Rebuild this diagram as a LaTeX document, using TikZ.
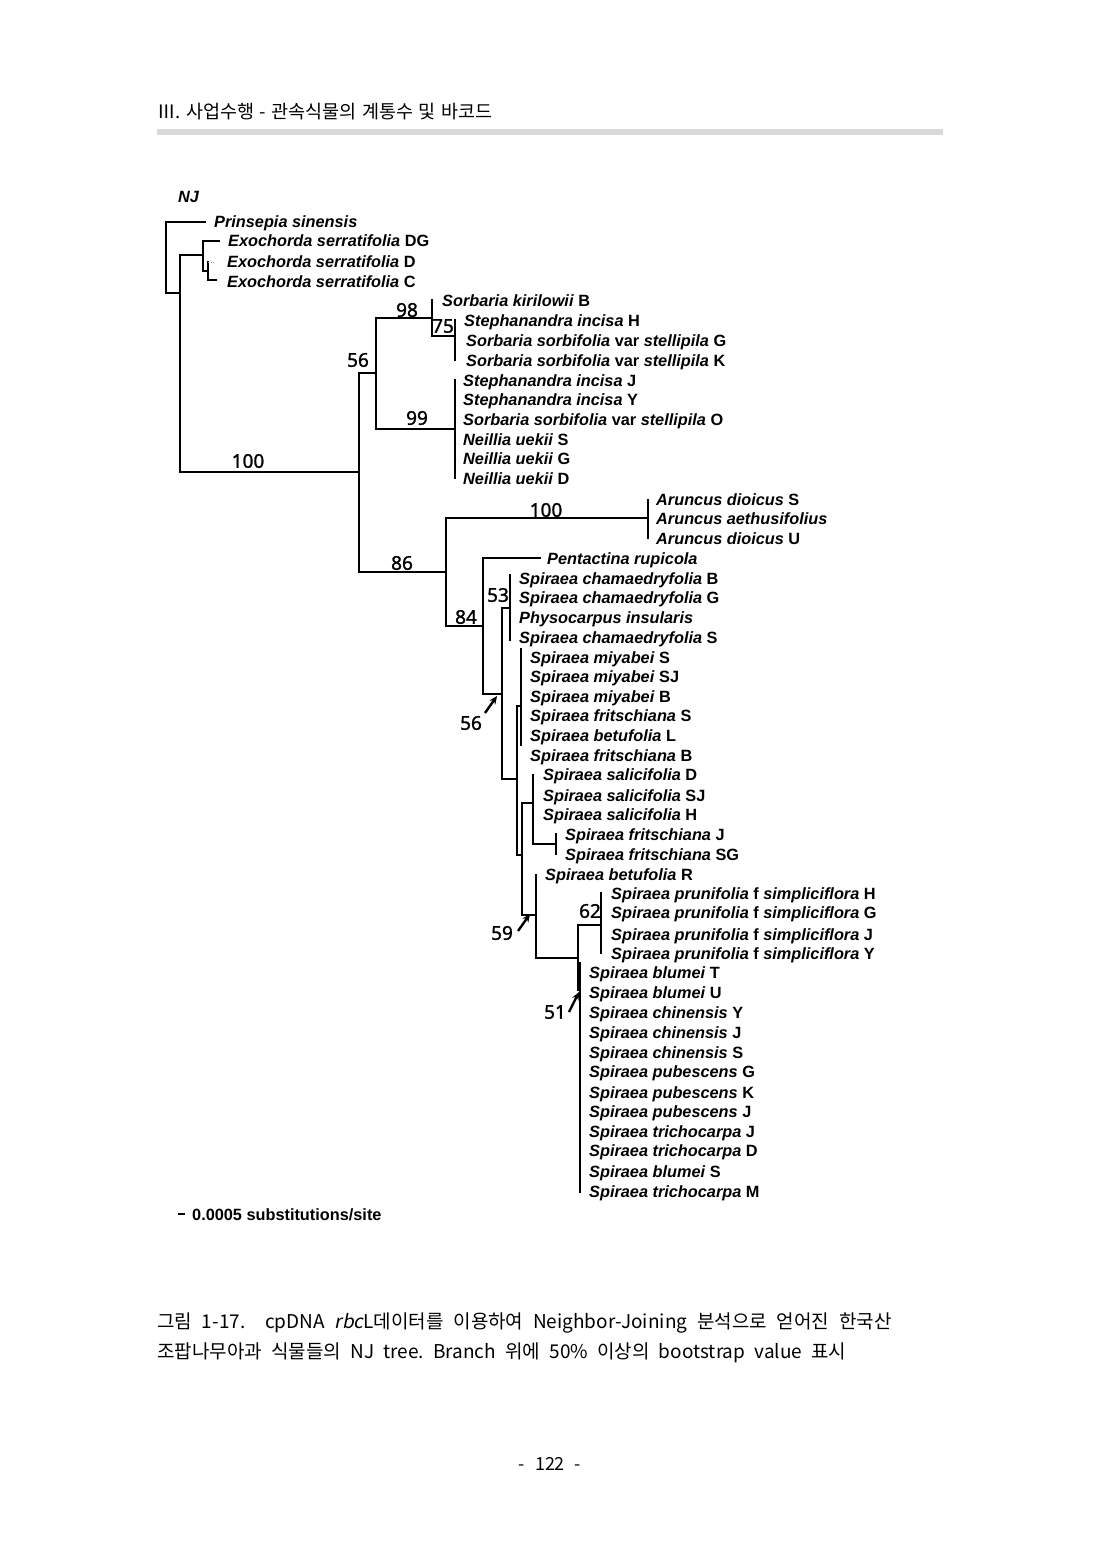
\documentclass[tikz,border=0pt]{standalone}
\usepackage{fontspec}
\setmainfont{Liberation Sans}
\newfontfamily\krfont{Noto Sans CJK KR}
\newfontfamily\kritfont[FakeSlant=0.2]{Noto Sans CJK KR}
\newfontfamily\numfont[FakeBold=1.3]{Noto Sans}
\usetikzlibrary{arrows.meta}
\newcommand\tx[2]{\textit{#1} #2}
\newcommand\sA{\hspace{5.5pt}}
\newcommand\sB{\hspace{9.8pt}}
\newcommand\sC{\hspace{9.2pt}}
\begin{document}
\begin{tikzpicture}[x=1pt,y=-1pt,
  br/.style={line width=1.3pt,line cap=rect},
  lab/.style={anchor=base west,inner sep=0pt,font=\fontsize{16.3}{16}\selectfont\bfseries},
  bs/.style={inner sep=0pt,font=\numfont\fontsize{19}{19}\selectfont},
  arr/.style={-{Stealth[length=8pt,width=7pt]},line width=2.4pt},
  kr/.style={anchor=base west,inner sep=0pt,font=\krfont\fontsize{18}{18}\selectfont}]
\useasboundingbox (0,0) rectangle (1100,1554);
\fill[white] (0,0) rectangle (1100,1554);
% header
\node[kr,font=\krfont\fontsize{18.5}{18}\selectfont] (hdr) at (157,119) {Ⅲ.\sA 사업수행\sA -\sA 관속식물의\sA 계통수\sA 및\sA 바코드};
\fill[black!15] (157,129) rectangle (943,135);
\node[lab,font=\fontsize{16.3}{16}\selectfont\bfseries\itshape] (nj) at (178,203) {NJ};
% internal node coordinates
\coordinate (root) at (166,257); \coordinate (root-t) at (166,222); \coordinate (root-b) at (166,293);
\coordinate (pri) at (205,222);
\coordinate (nA) at (180,293); \coordinate (nA-t) at (180,255); \coordinate (nA-b) at (180,472);
\coordinate (nExo) at (203,255); \coordinate (nExo-t) at (203,241); \coordinate (nExo-b) at (203,271);
\coordinate (exoDG) at (219,241);
\coordinate (nExo2) at (208,271); \coordinate (nExo2-t) at (208,262); \coordinate (nExo2-b) at (208,280);
\coordinate (exoD) at (215,262); \coordinate (exoC) at (216,280);
\coordinate (nB) at (359,472); \coordinate (nB-t) at (359,373); \coordinate (nB-b) at (359,572);
\coordinate (n56) at (376,373); \coordinate (n56-t) at (376,318); \coordinate (n56-b) at (376,429);
\coordinate (n98) at (432,318); \coordinate (n98-t) at (432,300); \coordinate (n98-b) at (432,336);
\coordinate (n75) at (455,336); \coordinate (n75-t) at (455,320); \coordinate (n75-b) at (455,360);
\coordinate (n99) at (455,429); \coordinate (n99-t) at (455,380); \coordinate (n99-b) at (455,478);
\coordinate (n86) at (446,572); \coordinate (n86-t) at (446,518); \coordinate (n86-b) at (446,626);
\coordinate (nAru) at (648,518); \coordinate (nAru-t) at (648,500); \coordinate (nAru-b) at (648,538);
\coordinate (n84) at (483,626); \coordinate (n84-t) at (483,558); \coordinate (n84-b) at (483,694);
\coordinate (pen) at (540,558);
\coordinate (nC) at (502,694); \coordinate (nC-t) at (502,608); \coordinate (nC-b) at (502,779);
\coordinate (n53) at (510,608); \coordinate (n53-t) at (510,575); \coordinate (n53-b) at (510,640);
\coordinate (nD) at (517,779); \coordinate (nD-t) at (517,706); \coordinate (nD-b) at (517,855);
\coordinate (nMiy) at (521,706); \coordinate (nMiy-t) at (521,649); \coordinate (nMiy-b) at (521,745);
\coordinate (nE) at (522,855); \coordinate (nE-t) at (522,803); \coordinate (nE-b) at (522,915);
\coordinate (nSal) at (533,803); \coordinate (nSal-t) at (533,775); \coordinate (nSal-b) at (533,844);
\coordinate (nFri) at (556,844); \coordinate (nFri-t) at (556,834); \coordinate (nFri-b) at (556,854);
\coordinate (n59) at (536,915); \coordinate (n59-t) at (536,875); \coordinate (n59-b) at (536,958);
\coordinate (nF) at (578,958); \coordinate (nF-t) at (578,925); \coordinate (nF-b) at (578,990);
\coordinate (n62) at (601,925); \coordinate (n62-t) at (601,893); \coordinate (n62-b) at (601,953);
\coordinate (nBlu) at (580,990); \coordinate (nBlu-t) at (580,963); \coordinate (nBlu-b) at (580,1192);
% verticals
\foreach \n in {root,nA,nExo,nExo2,nB,n56,n98,n75,n99,n86,nAru,n84,nC,n53,nD,nMiy,nE,nSal,nFri,n59,nF,n62,nBlu}
  \draw[br] (\n-t) -- (\n-b);
% horizontals
\foreach \p/\c in {root/pri,root/nA,nA/nExo,nA/nB,nExo/exoDG,nExo/nExo2,nExo2/exoC,nB/n56,nB/n86,n56/n98,n56/n99,n98/n75,n86/nAru,n86/n84,n84/pen,n84/nC,nC/n53,nC/nD,nD/nMiy,nD/nE,nE/nSal,nE/n59,nSal/nFri,n59/nF,nF/n62,nF/nBlu}
  \draw[br] (\p |- \c) -- (\c);
\draw[black!40,line width=0.6pt,dotted] (nExo2 |- exoD) -- (exoD);
% tip labels
\node[lab] (t1) at (214,228) {\textit{Prinsepia sinensis}};
\node[lab] (t2) at (228,247) {\tx{Exochorda serratifolia}{DG}};
\node[lab] (t3) at (227,267) {\tx{Exochorda serratifolia}{D}};
\node[lab] (t4) at (227,287) {\tx{Exochorda serratifolia}{C}};
\node[lab] (t5) at (442,306) {\tx{Sorbaria kirilowii}{B}};
\node[lab] (t6) at (464,326) {\tx{Stephanandra incisa}{H}};
\node[lab] (t7) at (466,346) {\textit{Sorbaria sorbifolia} var \tx{stellipila}{G}};
\node[lab] (t8) at (466,366) {\textit{Sorbaria sorbifolia} var \tx{stellipila}{K}};
\node[lab] (t9) at (463,386) {\tx{Stephanandra incisa}{J}};
\node[lab] (t10) at (463,405) {\tx{Stephanandra incisa}{Y}};
\node[lab] (t11) at (463,425) {\textit{Sorbaria sorbifolia} var \tx{stellipila}{O}};
\node[lab] (t12) at (463,445) {\tx{Neillia uekii}{S}};
\node[lab] (t13) at (463,464) {\tx{Neillia uekii}{G}};
\node[lab] (t14) at (463,484) {\tx{Neillia uekii}{D}};
\node[lab] (t15) at (656,505) {\tx{Aruncus dioicus}{S}};
\node[lab] (t16) at (656,524) {\textit{Aruncus aethusifolius}};
\node[lab] (t17) at (656,544) {\tx{Aruncus dioicus}{U}};
\node[lab] (t18) at (547,564) {\textit{Pentactina rupicola}};
\node[lab] (t19) at (519,584) {\tx{Spiraea chamaedryfolia}{B}};
\node[lab] (t20) at (519,603) {\tx{Spiraea chamaedryfolia}{G}};
\node[lab] (t21) at (519,623) {\textit{Physocarpus insularis}};
\node[lab] (t22) at (519,643) {\tx{Spiraea chamaedryfolia}{S}};
\node[lab] (t23) at (530,663) {\tx{Spiraea miyabei}{S}};
\node[lab] (t24) at (530,682) {\tx{Spiraea miyabei}{SJ}};
\node[lab] (t25) at (530,702) {\tx{Spiraea miyabei}{B}};
\node[lab] (t26) at (530,721) {\tx{Spiraea fritschiana}{S}};
\node[lab] (t27) at (530,741) {\tx{Spiraea betufolia}{L}};
\node[lab] (t28) at (530,761) {\tx{Spiraea fritschiana}{B}};
\node[lab] (t29) at (543,780) {\tx{Spiraea salicifolia}{D}};
\node[lab] (t30) at (543,801) {\tx{Spiraea salicifolia}{SJ}};
\node[lab] (t31) at (543,820) {\tx{Spiraea salicifolia}{H}};
\node[lab] (t32) at (565,840) {\tx{Spiraea fritschiana}{J}};
\node[lab] (t33) at (565,860) {\tx{Spiraea fritschiana}{SG}};
\node[lab] (t34) at (545,880) {\tx{Spiraea betufolia}{R}};
\node[lab] (t35) at (611,899) {\textit{Spiraea prunifolia} f \tx{simpliciflora}{H}};
\node[lab] (t36) at (611,918) {\textit{Spiraea prunifolia} f \tx{simpliciflora}{G}};
\node[lab] (t37) at (611,940) {\textit{Spiraea prunifolia} f \tx{simpliciflora}{J}};
\node[lab] (t38) at (611,959) {\textit{Spiraea prunifolia} f \tx{simpliciflora}{Y}};
\node[lab] (t39) at (589,978) {\tx{Spiraea blumei}{T}};
\node[lab] (t40) at (589,998) {\tx{Spiraea blumei}{U}};
\node[lab] (t41) at (589,1018) {\tx{Spiraea chinensis}{Y}};
\node[lab] (t42) at (589,1038) {\tx{Spiraea chinensis}{J}};
\node[lab] (t43) at (589,1058) {\tx{Spiraea chinensis}{S}};
\node[lab] (t44) at (589,1077) {\tx{Spiraea pubescens}{G}};
\node[lab] (t45) at (589,1098) {\tx{Spiraea pubescens}{K}};
\node[lab] (t46) at (589,1117) {\tx{Spiraea pubescens}{J}};
\node[lab] (t47) at (589,1137) {\tx{Spiraea trichocarpa}{J}};
\node[lab] (t48) at (589,1156) {\tx{Spiraea trichocarpa}{D}};
\node[lab] (t49) at (589,1177) {\tx{Spiraea blumei}{S}};
\node[lab] (t50) at (589,1197) {\tx{Spiraea trichocarpa}{M}};
% bootstrap values
\node[bs] (b100a) at (248,461) {100};
\node[bs] (b56) at (358,360) {56};
\node[bs] (b98) at (407,310) {98};
\node[bs] (b75) at (443,326) {75};
\node[bs] (b99) at (417,418) {99};
\node[bs] (b86) at (402,563) {86};
\node[bs] (b100b) at (546,510) {100};
\node[bs] (b84) at (466,617) {84};
\node[bs] (b53) at (498,595) {53};
\node[bs] (b62) at (590,911) {62};
\node[bs] (b56b) at (471,723) {56};
\node[bs] (b59) at (502,933) {59};
\node[bs] (b51) at (555,1012) {51};
\coordinate (a1s) at (485,713); \coordinate (a1e) at (497,696);
\coordinate (a2s) at (518,931); \coordinate (a2e) at (530,914);
\coordinate (a3s) at (569,1012); \coordinate (a3e) at (579,992);
\draw[arr] (a1s) -- (a1e);
\draw[arr] (a2s) -- (a2e);
\draw[arr] (a3s) -- (a3e);
% scale
\coordinate (sc1) at (178,1214); \coordinate (sc2) at (185,1214);
\draw[line width=1.5pt] (sc1) -- (sc2);
\node[lab,font=\fontsize{16.3}{16}\selectfont\bfseries] (sctxt) at (192,1220) {0.0005 substitutions/site};
% caption
\node[kr,font=\krfont\fontsize{19}{19}\selectfont] (cap1) at (157,1328) {그림\sB 1-17.\sB\sB cpDNA\sB{\kritfont rbc}L데이터를\sB 이용하여\sB Neighbor-Joining\sB 분석으로\sB 얻어진\sB 한국산};
\node[kr,font=\krfont\fontsize{19}{19}\selectfont] (cap2) at (157,1358) {조팝나무아과\sC 식물들의\sC NJ\sC tree.\sC Branch\sC 위에\sC 50\%\sC 이상의\sC bootstrap\sC value\sC 표시};
\node[kr,anchor=base] (pg) at (550,1470) {-\hspace{10pt}122\hspace{10pt}-};
\end{tikzpicture}
\end{document}
